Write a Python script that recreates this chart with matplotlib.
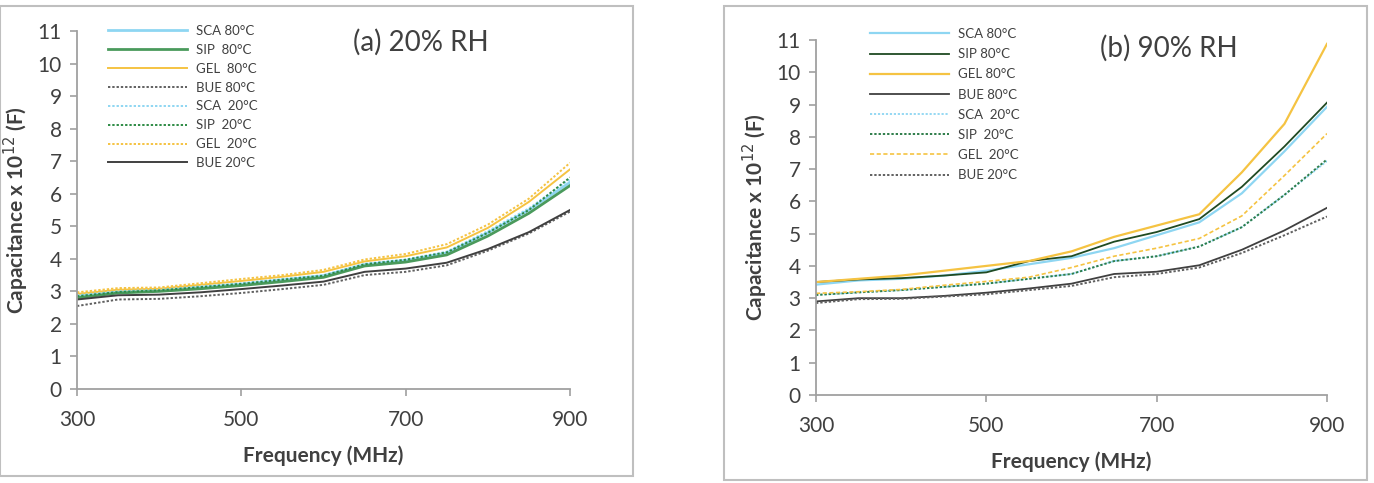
import matplotlib.pyplot as plt
from matplotlib.patches import Rectangle

plt.rcParams['font.family'] = ['Lato', 'DejaVu Sans']

# frequency points (MHz)
freq = [300, 350, 400, 450, 500, 550, 600, 650, 700, 750, 800, 850, 900]

# (a) 20% RH
a_sca80 = [2.85, 2.98, 3.02, 3.12, 3.22, 3.35, 3.48, 3.82, 3.95, 4.18, 4.80, 5.50, 6.35]
a_sip80 = [2.80, 2.95, 3.00, 3.08, 3.18, 3.30, 3.43, 3.78, 3.90, 4.12, 4.70, 5.40, 6.25]
a_gel80 = [2.92, 3.05, 3.08, 3.20, 3.32, 3.45, 3.60, 3.92, 4.08, 4.35, 4.95, 5.75, 6.75]
a_bue80 = [2.55, 2.75, 2.77, 2.85, 2.95, 3.07, 3.20, 3.50, 3.60, 3.80, 4.25, 4.78, 5.45]
a_sca20 = [2.88, 3.00, 3.05, 3.15, 3.25, 3.38, 3.50, 3.85, 3.98, 4.22, 4.85, 5.55, 6.45]
a_sip20 = [2.85, 2.98, 3.03, 3.13, 3.23, 3.36, 3.48, 3.83, 3.97, 4.20, 4.80, 5.50, 6.50]
a_gel20 = [2.97, 3.10, 3.12, 3.25, 3.38, 3.50, 3.66, 3.98, 4.15, 4.45, 5.05, 5.85, 6.95]
a_bue20 = [2.75, 2.88, 2.90, 2.97, 3.07, 3.18, 3.30, 3.60, 3.70, 3.88, 4.30, 4.82, 5.50]

# (b) 90% RH
b_sca80 = [3.42, 3.55, 3.60, 3.70, 3.85, 4.05, 4.25, 4.55, 4.95, 5.35, 6.25, 7.55, 8.93]
b_sip80 = [3.50, 3.58, 3.62, 3.70, 3.80, 4.15, 4.30, 4.75, 5.05, 5.45, 6.45, 7.70, 9.06]
b_gel80 = [3.50, 3.60, 3.70, 3.85, 4.00, 4.15, 4.45, 4.90, 5.25, 5.60, 6.90, 8.40, 10.88]
b_bue80 = [2.90, 3.00, 3.00, 3.07, 3.17, 3.30, 3.45, 3.75, 3.82, 4.02, 4.50, 5.10, 5.80]
b_sca20 = [3.10, 3.18, 3.25, 3.35, 3.45, 3.60, 3.75, 4.15, 4.30, 4.60, 5.20, 6.20, 7.25]
b_sip20 = [3.10, 3.18, 3.25, 3.35, 3.45, 3.60, 3.75, 4.15, 4.30, 4.60, 5.20, 6.20, 7.30]
b_gel20 = [3.15, 3.20, 3.27, 3.40, 3.52, 3.65, 3.95, 4.30, 4.55, 4.85, 5.55, 6.80, 8.10]
b_bue20 = [2.85, 2.97, 2.98, 3.05, 3.12, 3.25, 3.38, 3.65, 3.75, 3.95, 4.40, 4.95, 5.53]

a_labels = ["SCA 80°C", "SIP  80°C", "GEL  80°C", "BUE 80°C",
            "SCA  20°C", "SIP  20°C", "GEL  20°C", "BUE 20°C"]
b_labels = ["SCA 80°C", "SIP 80°C", "GEL 80°C", "BUE 80°C",
            "SCA  20°C", "SIP  20°C", "GEL  20°C", "BUE 20°C"]

BLUE = "#8ed6f2"
GOLD = "#f5c342"
GRAY = "#404040"
DOT_GRAY = "#606060"
TXT = "#404040"

fig = plt.figure(figsize=(13.74, 4.83), dpi=100)

# panel frames
fig.patches.append(Rectangle((0.0, 1 - 476 / 483), 633 / 1374, 470 / 483,
                             transform=fig.transFigure, fill=False,
                             ec="#bfbfbf", lw=1.5))
fig.patches.append(Rectangle((724 / 1374, 1 - 480 / 483), 643 / 1374, 474 / 483,
                             transform=fig.transFigure, fill=False,
                             ec="#bfbfbf", lw=1.5))

ax1 = fig.add_axes([77 / 1374, 1 - 389 / 483, 493 / 1374, 358 / 483])
ax2 = fig.add_axes([816 / 1374, 1 - 395 / 483, 511 / 1374, 355 / 483])

# (a) styles
ax1.plot(freq, a_sca80, color=BLUE, lw=2.0, label=a_labels[0])
ax1.plot(freq, a_sip80, color="#4a9a5c", lw=2.0, label=a_labels[1])
ax1.plot(freq, a_gel80, color=GOLD, lw=1.4, label=a_labels[2])
ax1.plot(freq, a_bue80, color=DOT_GRAY, lw=1.4, ls=(0, (1.2, 1)), label=a_labels[3])
ax1.plot(freq, a_sca20, color=BLUE, lw=1.4, ls=(0, (1.2, 1)), label=a_labels[4])
ax1.plot(freq, a_sip20, color="#2e8b45", lw=1.4, ls=(0, (1.2, 1)), label=a_labels[5])
ax1.plot(freq, a_gel20, color=GOLD, lw=1.4, ls=(0, (1.2, 1)), label=a_labels[6])
ax1.plot(freq, a_bue20, color=GRAY, lw=1.4, label=a_labels[7])

# (b) styles
ax2.plot(freq, b_sca80, color=BLUE, lw=1.6, label=b_labels[0])
ax2.plot(freq, b_sip80, color="#1f4a22", lw=1.3, label=b_labels[1])
ax2.plot(freq, b_gel80, color=GOLD, lw=1.6, label=b_labels[2])
ax2.plot(freq, b_bue80, color=GRAY, lw=1.3, label=b_labels[3])
ax2.plot(freq, b_sca20, color=BLUE, lw=1.3, ls=(0, (1.2, 1)), label=b_labels[4])
ax2.plot(freq, b_sip20, color="#2e7d4a", lw=1.4, ls=(0, (1.2, 1)), label=b_labels[5])
ax2.plot(freq, b_gel20, color=GOLD, lw=1.2, ls=(0, (2.5, 1.5)), label=b_labels[6])
ax2.plot(freq, b_bue20, color=DOT_GRAY, lw=1.4, ls=(0, (1.2, 1)), label=b_labels[7])

ylab = "Capacitance x 10$^{12}$ (F)"
for ax in (ax1, ax2):
    ax.set_xlim(300, 900)
    ax.set_ylim(0, 11)
    ax.set_xticks([300, 500, 700, 900])
    ax.set_yticks(range(0, 12))
    for s in ("top", "right"):
        ax.spines[s].set_visible(False)
    for s in ("left", "bottom"):
        ax.spines[s].set_color("#a0a0a0")
        ax.spines[s].set_linewidth(1.3)
    ax.tick_params(direction="out", length=5, width=1.2, color="#a0a0a0",
                   labelsize=15, labelcolor=TXT)
    ax.tick_params(axis="x", pad=10)
    ax.tick_params(axis="y", pad=6)
    ax.set_xlabel("Frequency (MHz)", fontsize=15, fontweight="bold",
                  color=TXT, labelpad=11)
    ax.set_ylabel(ylab, fontsize=15, fontweight="bold", color=TXT,
                  labelpad=5)

ax1.legend(loc="upper left", bbox_to_anchor=(108 / 1374, 1 - 25 / 483),
           bbox_transform=fig.transFigure, frameon=False, fontsize=9.5,
           handlelength=6.0, handletextpad=0.7, labelspacing=0.52,
           borderpad=0, borderaxespad=0, labelcolor=TXT)
ax2.legend(loc="upper left", bbox_to_anchor=(870 / 1374, 1 - 28 / 483),
           bbox_transform=fig.transFigure, frameon=False, fontsize=9.5,
           handlelength=6.0, handletextpad=0.7, labelspacing=0.62,
           borderpad=0, borderaxespad=0, labelcolor=TXT)

fig.text(421 / 1374, 1 - 42 / 483, "(a) 20% RH", fontsize=20, color=TXT,
         ha="center", va="center")
fig.text(1169 / 1374, 1 - 48 / 483, "(b) 90% RH", fontsize=20, color=TXT,
         ha="center", va="center")

fig.savefig("out.png", dpi=100)
